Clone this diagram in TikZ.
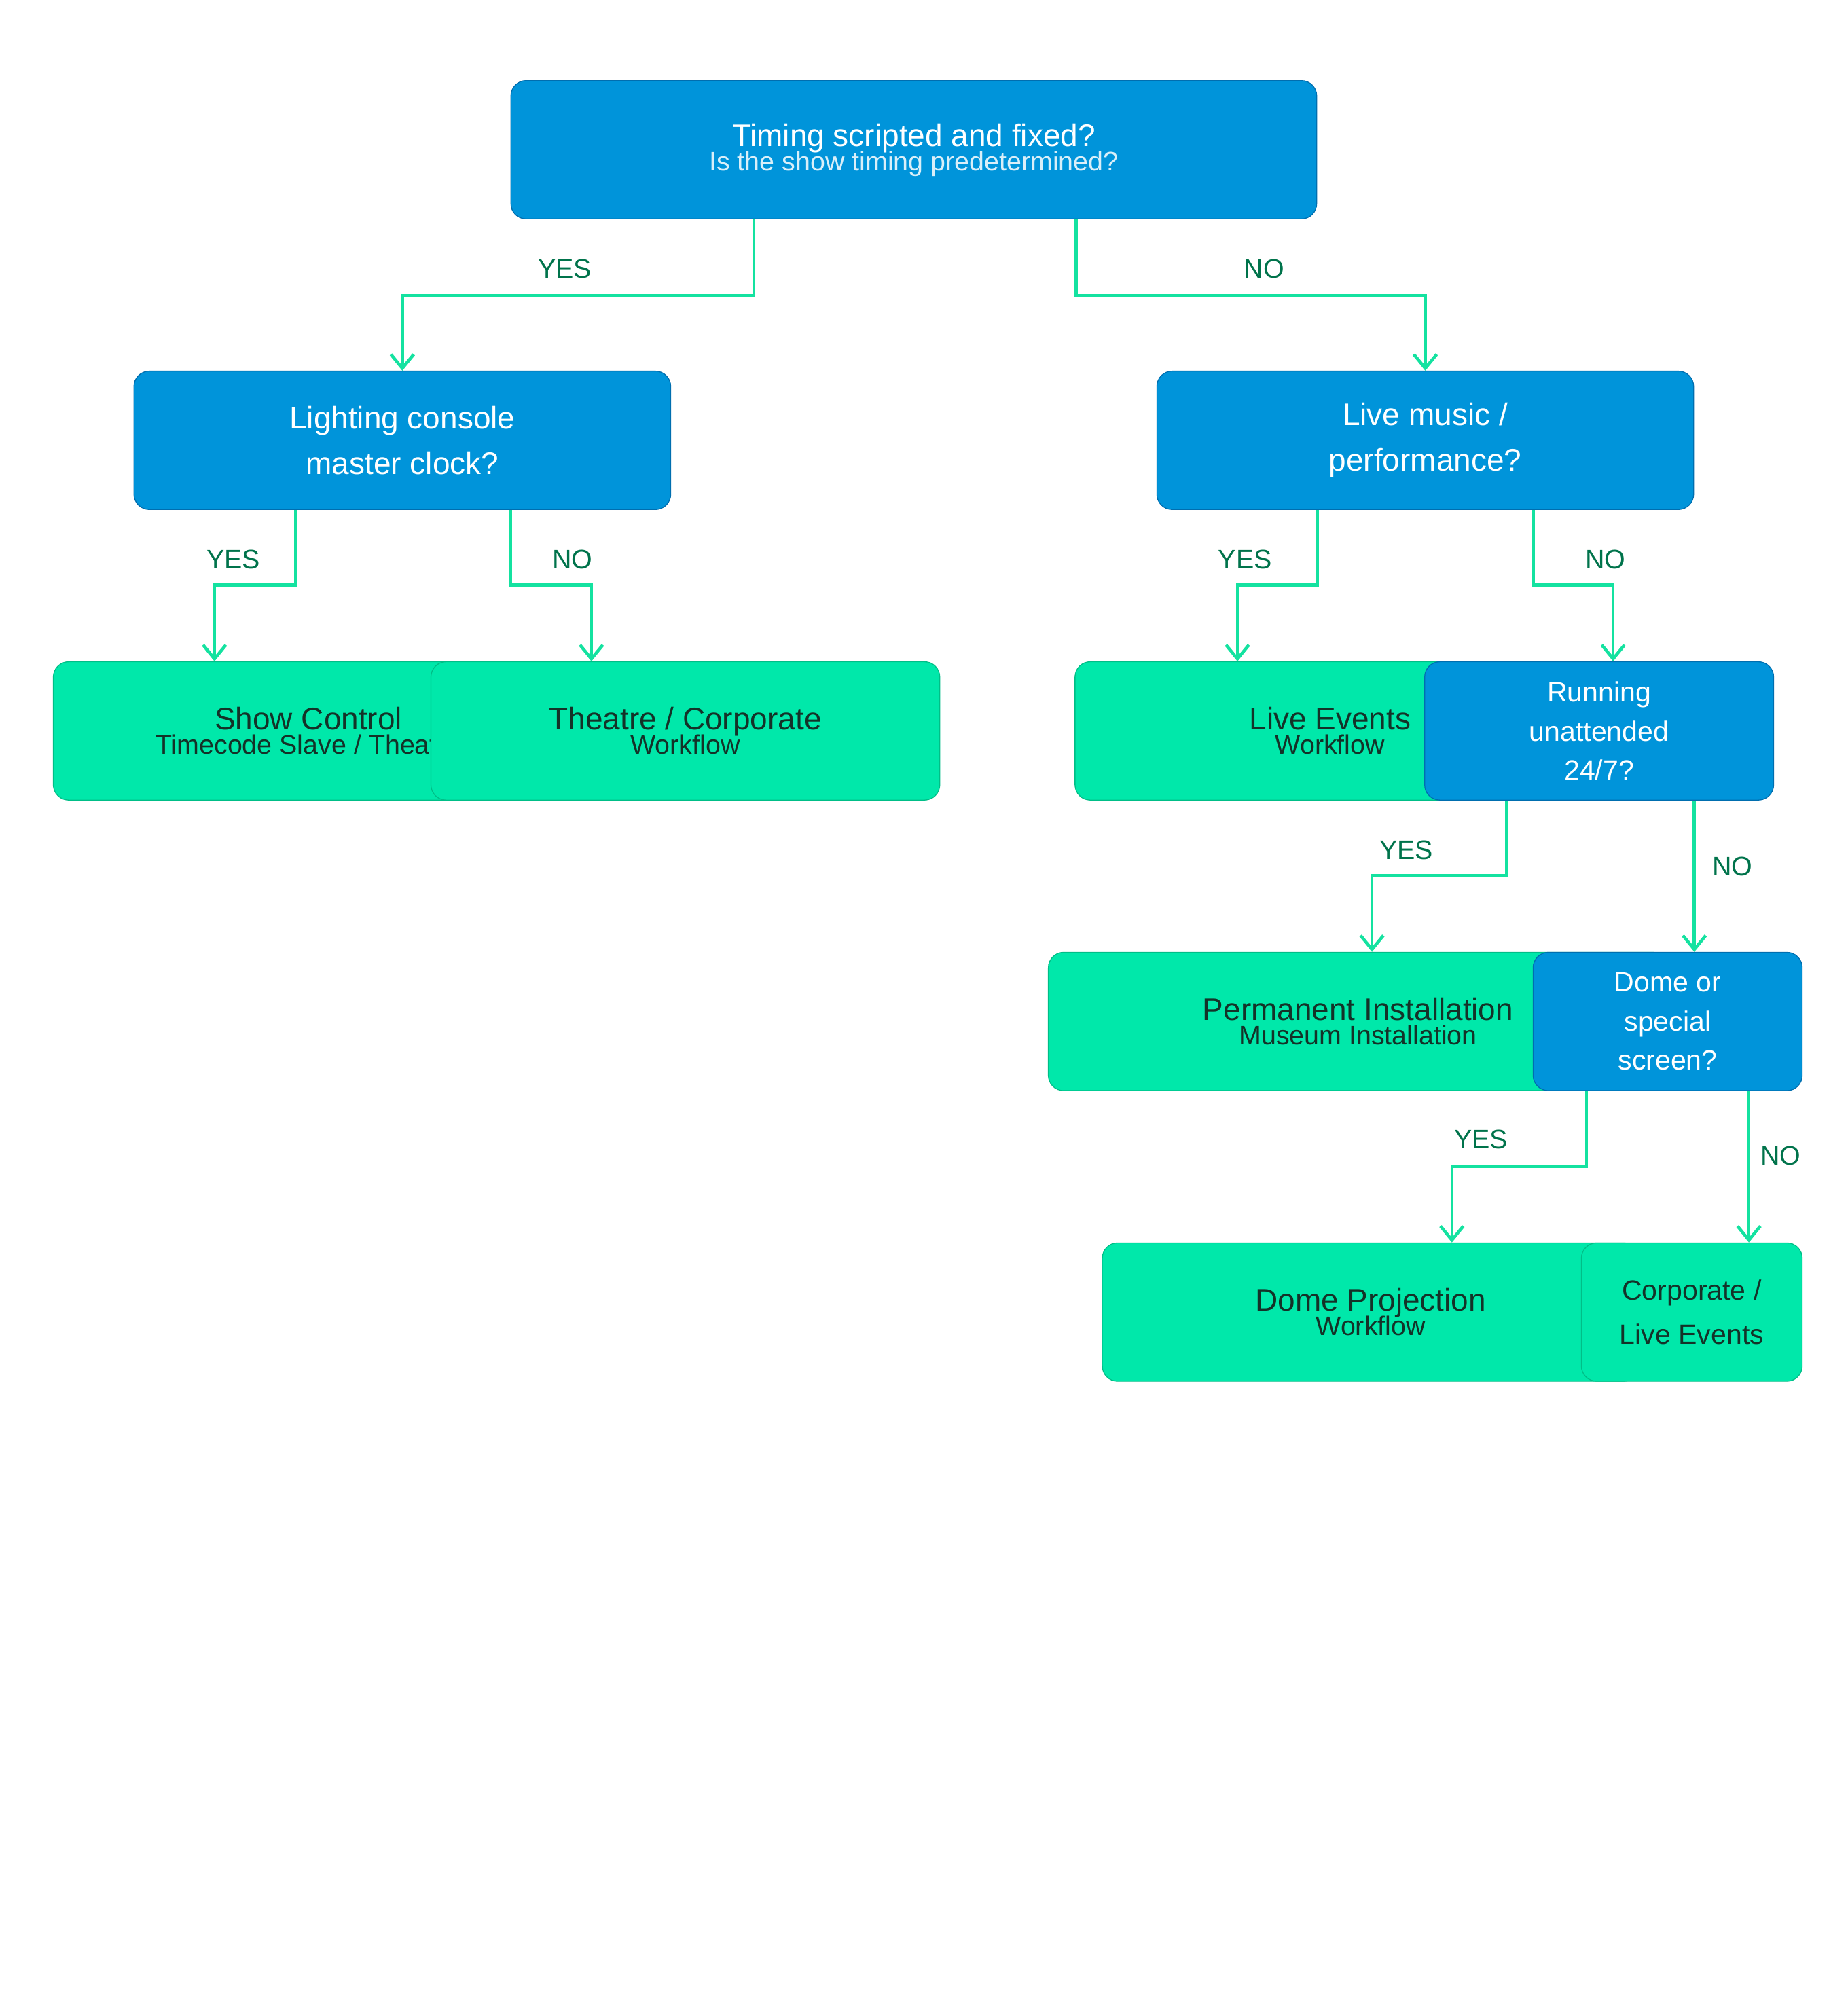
\documentclass[tikz,border=0pt]{standalone}
\usepackage{fontspec}
\setmainfont{Liberation Sans}
\usetikzlibrary{arrows.meta}

\definecolor{qblue}{RGB}{0,148,218}
\definecolor{qblueline}{RGB}{0,110,175}
\definecolor{wgreen}{RGB}{0,232,170}
\definecolor{wgreenline}{RGB}{0,190,135}
\definecolor{flow}{RGB}{20,226,160}
\definecolor{labeltext}{RGB}{0,115,75}
\definecolor{wtext}{RGB}{20,50,40}

\newcommand{\qtext}[2]{{\fontsize{14}{22}\selectfont #1}\\[-1pt]{\fontsize{12}{20}\selectfont\color{white!85!qblue} #2}}
\newcommand{\wtextlines}[2]{{\fontsize{14}{22}\selectfont #1}\\[-1pt]{\fontsize{12}{20}\selectfont #2}}

\begin{document}
\begin{tikzpicture}[x=0.02cm, y=-0.02cm,
  box/.style = {draw, rounded corners=0.24cm, minimum height=2.18cm, align=center, inner sep=2pt},
  question/.style = {box, fill=qblue, draw=qblueline, text=white},
  workflow/.style = {box, fill=wgreen, draw=wgreenline, text=wtext},
  flowline/.style = {flow, line width=1.4pt, -{Straight Barb[length=2.2mm, width=3.6mm]}},
  answer/.style = {text=labeltext, font=\fontsize{12}{14}\selectfont}
]
  \useasboundingbox (0,0) rectangle (1456,1584);

  % questions and workflows
  \node[question, minimum width=12.7cm] (timing) at (720,118)
    {\qtext{Timing scripted and fixed?}{Is the show timing predetermined?}};
  \node[question, minimum width=8.46cm, font=\fontsize{14}{20.5}\selectfont] (console) at (317,347)
    {Lighting console\\master clock?};
  \node[question, minimum width=8.46cm, font=\fontsize{14}{20.5}\selectfont] (live) at (1123,347)
    {Live music /\\performance?};

  \node[workflow, minimum width=8.04cm] (show) at (243,576)
    {\wtextlines{Show Control}{Timecode Slave / Theatre}};
  \node[workflow, minimum width=8.02cm] (theatre) at (540,576)
    {\wtextlines{Theatre / Corporate}{Workflow}};

  \node[workflow, minimum width=8.04cm] (events) at (1048,576)
    {\wtextlines{Live Events}{Workflow}};
  \node[question, minimum width=5.5cm, font=\fontsize{12.5}{17.5}\selectfont] (unattended) at (1260,576)
    {Running\\unattended\\24/7?};

  \node[workflow, minimum width=9.76cm] (permanent) at (1070,805)
    {\wtextlines{Permanent Installation}{Museum Installation}};
  \node[question, minimum width=4.24cm, font=\fontsize{12.5}{17.5}\selectfont] (dome) at (1314,805)
    {Dome or\\special\\screen?};

  \node[workflow, minimum width=8.46cm] (projection) at (1080,1034)
    {\wtextlines{Dome Projection}{Workflow}};
  \node[workflow, minimum width=3.48cm, font=\fontsize{12.5}{20}\selectfont] (corporate) at (1333,1034)
    {Corporate /\\Live Events};

  % connectors
  \draw[flowline] (timing.south -| 594,0) |- (317,233) -- (console.north);
  \draw[flowline] (timing.south -| 848,0) |- (1123,233) -- (live.north);
  \draw[flowline] (console.south -| 233,0) |- (169,461) -- (show.north -| 169,0);
  \draw[flowline] (console.south -| 402,0) |- (466,461) -- (theatre.north -| 466,0);
  \draw[flowline] (live.south -| 1038,0) |- (975,461) -- (events.north -| 975,0);
  \draw[flowline] (live.south -| 1208,0) |- (1271,461) -- (unattended.north -| 1271,0);
  \draw[flowline] (unattended.south -| 1187,0) |- (1081,690) -- (permanent.north -| 1081,0);
  \draw[flowline] (unattended.south -| 1335,0) -- (dome.north -| 1335,0);
  \draw[flowline] (dome.south -| 1250,0) |- (1144,919) -- (projection.north -| 1144,0);
  \draw[flowline] (dome.south -| 1378,0) -- (corporate.north -| 1378,0);

  % answer labels
  \node[answer] (yes1) at (445,212) {YES};
  \node[answer] (no1) at (996,212) {NO};
  \node[answer] (yes2) at (184,441) {YES};
  \node[answer] (no2) at (451,441) {NO};
  \node[answer] (yes3) at (981,441) {YES};
  \node[answer] (no3) at (1265,441) {NO};
  \node[answer] (yes4) at (1108,670) {YES};
  \node[answer] (no4) at (1365,683) {NO};
  \node[answer] (yes5) at (1167,898) {YES};
  \node[answer, fill=white, inner sep=2pt] (no5) at (1403,911) {NO};
\end{tikzpicture}
\end{document}
